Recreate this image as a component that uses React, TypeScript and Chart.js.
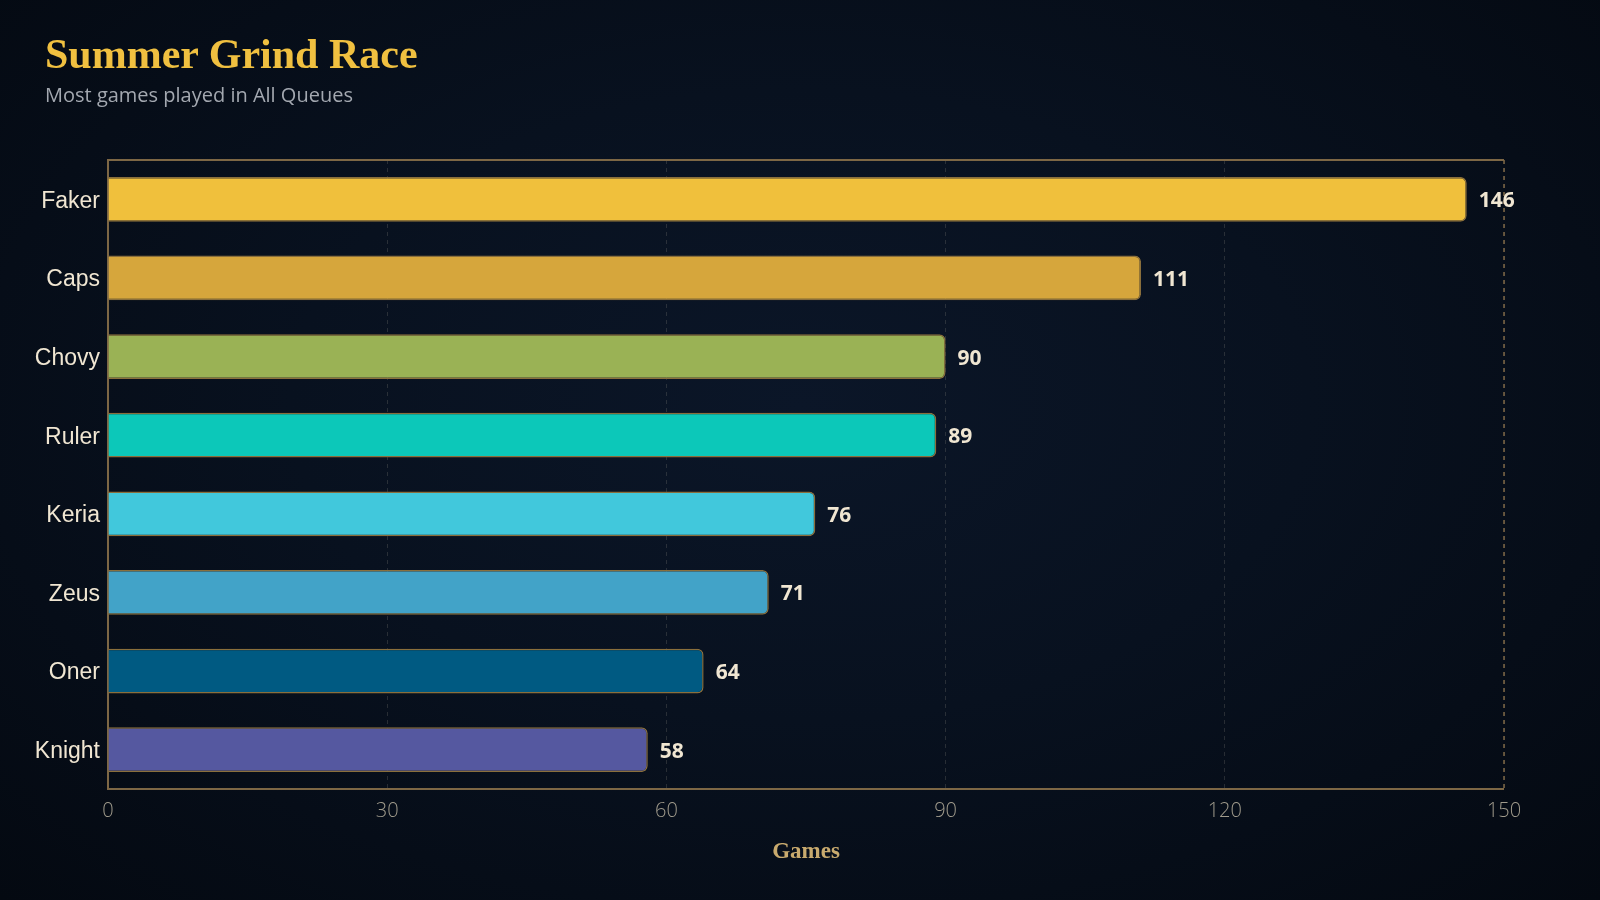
import { useEffect, useRef } from 'react';
import { Chart, registerables, ChartConfiguration, Plugin } from 'chart.js';

Chart.register(...registerables);

// players, ordered by games played
const players = ['Faker', 'Caps', 'Chovy', 'Ruler', 'Keria', 'Zeus', 'Oner', 'Knight'];
const gamesPlayed = [146, 111, 90, 89, 76, 71, 64, 58];
const barColors = ['#F0C03C', '#D6A63C', '#9AB255', '#0CC8B9', '#41C8DC', '#42A3C8', '#005A82', '#5558A0'];
const xTicks = [0, 30, 60, 90, 120, 150];

const frameColor = '#7d6745';

// value label at the end of each bar
const valueLabels: Plugin<'bar'> = {
    id: 'valueLabels',
    afterDatasetsDraw(chart) {
        const { ctx } = chart;
        const meta = chart.getDatasetMeta(0);
        ctx.save();
        ctx.font = 'bold 21px "Noto Sans", "DejaVu Sans", sans-serif';
        ctx.fillStyle = '#F0E6D2';
        ctx.textBaseline = 'middle';
        ctx.textAlign = 'left';
        meta.data.forEach((bar: any, i) => {
            ctx.fillText(String(gamesPlayed[i]), bar.x + 12, bar.y + 2);
        });
        ctx.restore();
    },
};

// gold frame round the plot: solid top/left/bottom, dashed right
const plotFrame: Plugin<'bar'> = {
    id: 'plotFrame',
    beforeDatasetsDraw(chart) {
        const { ctx, chartArea: a } = chart;
        ctx.save();
        ctx.strokeStyle = frameColor;
        ctx.lineWidth = 2;
        ctx.beginPath();
        ctx.moveTo(a.right, a.top);
        ctx.lineTo(a.left, a.top);
        ctx.lineTo(a.left, a.bottom);
        ctx.lineTo(a.right, a.bottom);
        ctx.stroke();
        ctx.setLineDash([4, 4]);
        ctx.lineWidth = 1.5;
        ctx.beginPath();
        ctx.moveTo(a.right, a.top);
        ctx.lineTo(a.right, a.bottom);
        ctx.stroke();
        ctx.restore();
    },
};

const GamesChart: React.FC = () => {
    const canvasRef = useRef<HTMLCanvasElement | null>(null);
    const chartInstance = useRef<Chart<'bar'> | null>(null);

    useEffect(() => {
        if (!canvasRef.current) return;
        if (chartInstance.current) chartInstance.current.destroy();

        const config: ChartConfiguration<'bar'> = {
            type: 'bar',
            data: {
                labels: players,
                datasets: [
                    {
                        data: gamesPlayed,
                        backgroundColor: barColors,
                        borderColor: '#8a6f3c',
                        borderWidth: 1.5,
                        borderRadius: 6,
                        borderSkipped: 'start',
                        barPercentage: 0.57,
                        categoryPercentage: 1,
                    },
                ],
            },
            options: {
                indexAxis: 'y',
                responsive: false,
                animation: false,
                layout: { padding: { top: 160, right: 96, bottom: 30, left: 0 } },
                plugins: {
                    legend: { display: false },
                    tooltip: { enabled: false },
                },
                scales: {
                    x: {
                        min: 0,
                        max: 150,
                        afterBuildTicks: (scale) => {
                            scale.ticks = xTicks.map((v) => ({ value: v }));
                        },
                        afterFit: (scale) => {
                            scale.height = 81;
                        },
                        // border.dash also dashes the grid lines
                        border: { display: false, dash: [4, 4] },
                        grid: {
                            color: (c) => (c.tick && c.tick.value === 0 ? 'rgba(0,0,0,0)' : 'rgba(160,155,140,0.22)'),
                            lineWidth: 1,
                            drawTicks: false,
                        },
                        ticks: {
                            color: '#A09B8C',
                            padding: 10,
                            font: { family: '"Open Sans", "Noto Sans", sans-serif', size: 20, weight: 300 },
                        },
                        title: {
                            display: true,
                            text: 'Games',
                            color: '#C8AA6E',
                            padding: { top: 6, bottom: 4 },
                            font: { family: '"Liberation Serif", "DejaVu Serif", serif', size: 23, weight: 'bold' },
                        },
                    },
                    y: {
                        afterFit: (scale) => {
                            scale.width = 108;
                        },
                        border: { display: false },
                        grid: { display: false, drawTicks: false },
                        ticks: {
                            color: '#F0E6D2',
                            padding: 8,
                            labelOffset: 2,
                            font: { family: '"Liberation Sans Narrow", "Liberation Sans", sans-serif', size: 23 },
                        },
                    },
                },
            },
            plugins: [plotFrame, valueLabels],
        };

        chartInstance.current = new Chart(canvasRef.current, config);
        return () => {
            if (chartInstance.current) {
                chartInstance.current.destroy();
                chartInstance.current = null;
            }
        };
    }, []);

    return <canvas ref={canvasRef} width={1600} height={900} style={{ position: 'absolute', left: 0, top: 0 }} />;
};

export default function App() {
    useEffect(() => {
        document.body.style.margin = '0';
        document.body.style.background = '#050A14';
    }, []);

    return (
        <div
            style={{
                position: 'relative',
                width: 1600,
                height: 900,
                overflow: 'hidden',
                background: 'radial-gradient(ellipse at 50% 45%, #0b1628 0%, #08111f 45%, #040911 100%)',
            }}
        >
            <GamesChart />
            <div
                style={{
                    position: 'absolute',
                    left: 45,
                    top: 28,
                    color: '#F0C040',
                    fontFamily: '"Liberation Serif", "DejaVu Serif", serif',
                    fontWeight: 'bold',
                    fontSize: 42,
                    lineHeight: '52px',
                }}
            >
                Summer Grind Race
            </div>
            <div
                style={{
                    position: 'absolute',
                    left: 45,
                    top: 81,
                    color: '#A3A8B0',
                    fontFamily: '"Open Sans", "Noto Sans", sans-serif',
                    fontSize: 20,
                    lineHeight: '28px',
                }}
            >
                Most games played in All Queues
            </div>
        </div>
    );
}
